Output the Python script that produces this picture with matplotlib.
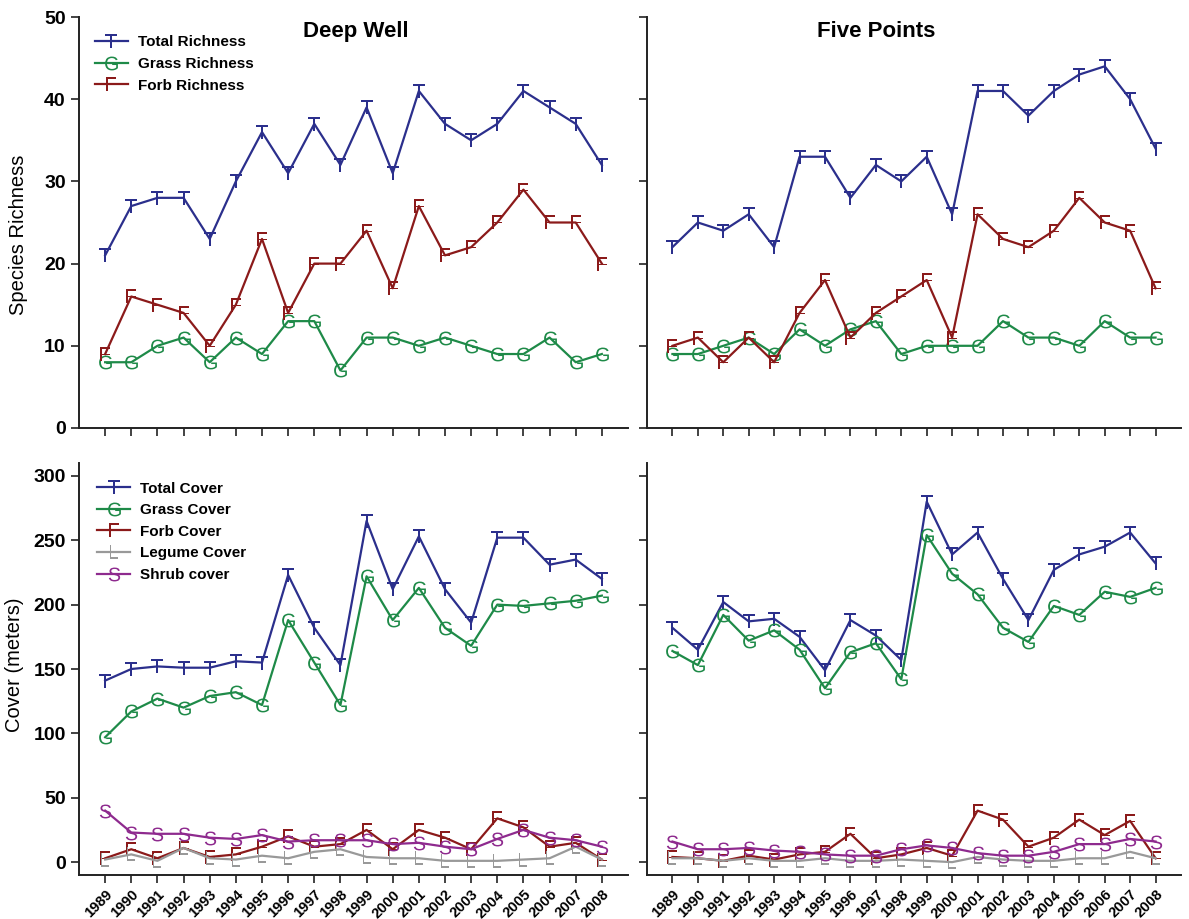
import matplotlib
matplotlib.use('Agg')
import matplotlib.pyplot as plt

years = list(range(1989, 2009))

# Species richness - Deep Well
dw_total_rich = [21, 27, 28, 28, 23, 30, 36, 31, 37, 32, 39, 31, 41, 37, 35, 37, 41, 39, 37, 32]
dw_grass_rich = [8, 8, 10, 11, 8, 11, 9, 13, 13, 7, 11, 11, 10, 11, 10, 9, 9, 11, 8, 9]
dw_forb_rich = [9, 16, 15, 14, 10, 15, 23, 14, 20, 20, 24, 17, 27, 21, 22, 25, 29, 25, 25, 20]

# Species richness - Five Points
fp_total_rich = [22, 25, 24, 26, 22, 33, 33, 28, 32, 30, 33, 26, 41, 41, 38, 41, 43, 44, 40, 34]
fp_grass_rich = [9, 9, 10, 11, 9, 12, 10, 12, 13, 9, 10, 10, 10, 13, 11, 11, 10, 13, 11, 11]
fp_forb_rich = [10, 11, 8, 11, 8, 14, 18, 11, 14, 16, 18, 11, 26, 23, 22, 24, 28, 25, 24, 17]

# Cover - Deep Well
dw_total_cov = [141, 150, 152, 151, 151, 156, 155, 223, 182, 153, 265, 212, 253, 212, 186, 252, 252, 231, 235, 220]
dw_grass_cov = [97, 117, 127, 120, 129, 132, 122, 188, 155, 122, 222, 188, 213, 182, 168, 200, 199, 201, 203, 207]
dw_forb_cov = [3, 10, 3, 11, 4, 6, 12, 20, 12, 14, 25, 10, 25, 19, 10, 34, 27, 12, 15, 2]
dw_legume_cov = [2, 6, 1, 11, 3, 2, 5, 3, 8, 10, 4, 3, 3, 1, 1, 1, 2, 3, 12, 2]
dw_shrub_cov = [40, 23, 22, 22, 19, 18, 21, 16, 17, 17, 17, 14, 15, 12, 10, 18, 25, 19, 17, 12]

# Cover - Five Points
fp_total_cov = [182, 165, 202, 187, 189, 175, 149, 188, 176, 157, 280, 239, 256, 220, 188, 227, 239, 245, 256, 232]
fp_grass_cov = [164, 153, 192, 172, 180, 165, 135, 163, 170, 142, 254, 224, 208, 182, 171, 199, 192, 210, 206, 213]
fp_forb_cov = [4, 3, 1, 5, 2, 6, 8, 22, 3, 6, 11, 5, 40, 33, 12, 19, 33, 21, 32, 3]
fp_legume_cov = [3, 3, 1, 3, 1, 1, 3, 1, 1, 2, 1, 0, 4, 2, 1, 1, 3, 3, 8, 3]
fp_shrub_cov = [16, 10, 10, 11, 9, 8, 6, 5, 5, 10, 13, 11, 7, 5, 5, 8, 14, 14, 18, 16]

rich_labels = ['Total Richness', 'Grass Richness', 'Forb Richness']
cov_labels = ['Total Cover', 'Grass Cover', 'Forb Cover', 'Legume Cover', 'Shrub cover']
titles = ['Deep Well', 'Five Points']

plt.rcParams['font.family'] = ['Liberation Sans', 'DejaVu Sans']
plt.rcParams['mathtext.fontset'] = 'custom'
plt.rcParams['mathtext.rm'] = 'Liberation Sans'

BLUE = '#2B2F8C'
GREEN = '#1E8A48'
RED = '#8B1A1A'
GRAY = '#999999'
PURPLE = '#8E2A8E'

W, H = 1189, 919
fig = plt.figure(figsize=(W / 100, H / 100), dpi=100)


def px_axes(l, t, r, b):
    return fig.add_axes([l / W, 1 - b / H, (r - l) / W, (b - t) / H])


ax_tl = px_axes(79, 17, 628, 428)
ax_tr = px_axes(647, 17, 1181, 428)
ax_bl = px_axes(79, 463, 628, 875)
ax_br = px_axes(647, 463, 1181, 875)


def series(ax, vals, color, letter, label):
    ax.plot(years, vals, color=color, lw=1.6, marker=r'$\mathregular{%s}$' % letter,
            markersize=10, markeredgewidth=0, markerfacecolor=color, label=label)


rich_sets = [(dw_total_rich, dw_grass_rich, dw_forb_rich),
             (fp_total_rich, fp_grass_rich, fp_forb_rich)]
cov_sets = [(dw_total_cov, dw_grass_cov, dw_forb_cov, dw_legume_cov, dw_shrub_cov),
            (fp_total_cov, fp_grass_cov, fp_forb_cov, fp_legume_cov, fp_shrub_cov)]

rich_styles = [(BLUE, 'T'), (GREEN, 'G'), (RED, 'F')]
cov_styles = [(BLUE, 'T'), (GREEN, 'G'), (RED, 'F'), (GRAY, 'L'), (PURPLE, 'S')]

for i, ax in enumerate([ax_tl, ax_tr]):
    for vals, (c, L), lab in zip(rich_sets[i], rich_styles, rich_labels):
        series(ax, vals, c, L, lab)
    ax.set_ylim(0, 50)
    ax.set_yticks([0, 10, 20, 30, 40, 50])
    ax.text(0.505 if i == 0 else 0.43, 0.965, titles[i], transform=ax.transAxes,
            ha='center', va='center', fontsize=16, fontweight='bold')

for i, ax in enumerate([ax_bl, ax_br]):
    for vals, (c, L), lab in zip(cov_sets[i], cov_styles, cov_labels):
        series(ax, vals, c, L, lab)
    ax.set_ylim(-10, 310)
    ax.set_yticks([0, 50, 100, 150, 200, 250, 300])

for ax in [ax_tl, ax_tr, ax_bl, ax_br]:
    ax.set_xlim(1988, 2009)
    ax.set_xticks(years)
    for s in ['top', 'right']:
        ax.spines[s].set_visible(False)
    for s in ['left', 'bottom']:
        ax.spines[s].set_linewidth(1.4)
        ax.spines[s].set_color('#222222')
    ax.tick_params(direction='out', length=6, width=1.2, color='#222222',
                   labelsize=14)
    for t in ax.get_yticklabels():
        t.set_fontweight('bold')

for ax in [ax_tl, ax_tr]:
    ax.tick_params(axis='x', labelbottom=False)
for ax in [ax_tr, ax_br]:
    ax.tick_params(axis='y', labelleft=False)
for ax in [ax_bl, ax_br]:
    ax.set_xticks(years)
    ax.set_xticklabels([str(y) for y in years], rotation=45, ha='right',
                       rotation_mode='anchor', fontweight='bold', fontsize=10.5)
    ax.tick_params(axis='x', pad=3)

ax_tl.set_ylabel('Species Richness', fontsize=14.5)
ax_tl.yaxis.set_label_coords(-0.093, 0.47)
ax_bl.set_ylabel('Cover (meters)', fontsize=14.5)
ax_bl.yaxis.set_label_coords(-0.1, 0.51)

leg_kw = dict(frameon=False, loc='upper left', borderaxespad=0, borderpad=0,
              handlelength=2.15, handletextpad=0.65, labelspacing=0.5,
              prop={'weight': 'bold', 'size': 11}, numpoints=1)
ax_tl.legend(bbox_to_anchor=(0.029, 0.955), **leg_kw)
ax_bl.legend(bbox_to_anchor=(0.033, 0.955), **leg_kw)

fig.savefig('out.png', dpi=100)
